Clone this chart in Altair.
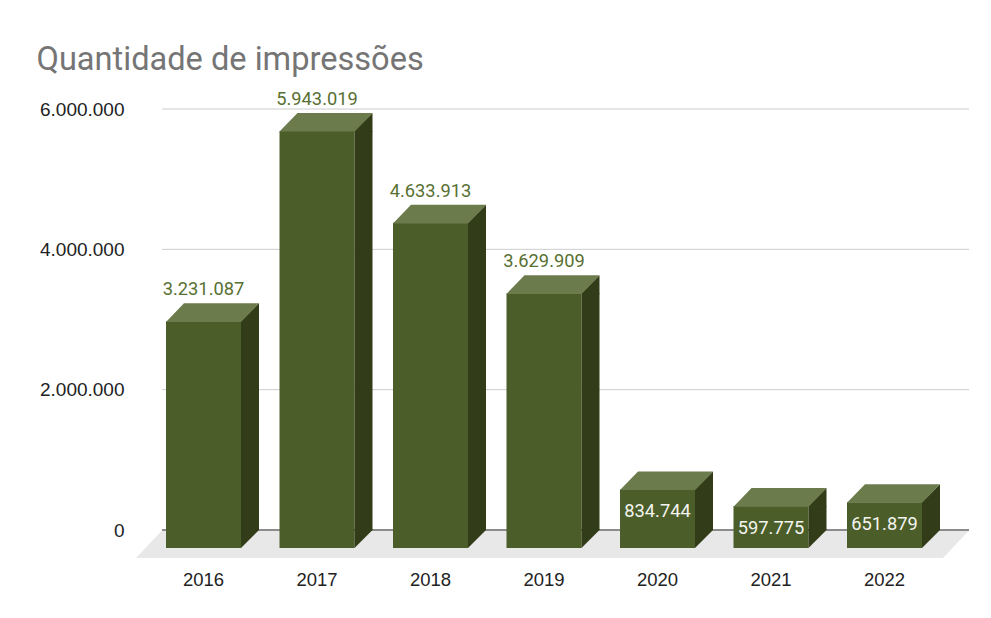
import altair as alt
import pandas as pd

# ---- data ----
years = ["2016", "2017", "2018", "2019", "2020", "2021", "2022"]
values = [3231087, 5943019, 4633913, 3629909, 834744, 597775, 651879]
y_ticks = [0, 2000000, 4000000, 6000000]
title_text = "Quantidade de impressões"

df = pd.DataFrame({"ano": years, "valor": values})
zero_df = pd.DataFrame({"v": [0]})
tick_df = pd.DataFrame({"t": y_ticks})

# ---- styling ----
W, H = 807, 421
FRONT = "#4b5e29"
TOP = "#6b7b4b"
SIDE = "#323c19"
FLOOR = "#e8e8e8"
LABEL_GREEN = "#587032"
FONT = "Roboto"
AXIS_FONT = "Liberation Sans"

TOP_PATH = "M -55.5 18.6 L 19.5 18.6 L 37.5 0 L -37.5 0 Z"
SIDE_TOP_PATH = "M 19.5 18.8 L 19.5 18 L 37.5 0 L 37.5 18.8 Z"
SIDE_BOT_PATH = "M 19.5 -0.8 L 37.5 -0.8 L 37.5 0 L 19.5 18 Z"
FLOOR_PATH = "M 0 0.5 L 807 0.5 L 781 28 L -26 28 Z"

xenc = alt.X(
    "ano:N",
    sort=years,
    scale=alt.Scale(range=[2.75, 797.25], paddingInner=0, paddingOuter=0),
    axis=alt.Axis(
        title=None, labelOffset=-18, labelPadding=49, labelBaseline="middle",
        domain=False, ticks=False, grid=False, labelAngle=0,
        labelFontSize=18.5, labelFont=AXIS_FONT, labelColor="#222222",
    ),
)
yenc = alt.Y(
    "valor:Q",
    scale=alt.Scale(domain=[0, 6000000], nice=False, zero=True),
    axis=alt.Axis(
        title=None, values=y_ticks, format=",d", domain=False, ticks=False,
        grid=False,
        labelPadding=38, labelFontSize=19, labelFont=AXIS_FONT, labelColor="#222222",
    ),
)

base = alt.Chart(df).encode(x=xenc)

axes = base.mark_bar(opacity=0).encode(y=yenc)

gridlines = alt.Chart(tick_df).mark_rule(color="#cccccc", strokeWidth=1).encode(
    y=alt.Y("t:Q"), x=alt.value(0), x2=alt.value(W)
)

floor = alt.Chart(zero_df).mark_point(
    shape=FLOOR_PATH, size=4, filled=True, opacity=1, color=FLOOR, strokeWidth=0
).encode(x=alt.value(0), y=alt.datum(0))

baseline = alt.Chart(zero_df).mark_rule(color="#333333", strokeWidth=1).encode(
    x=alt.value(0), x2=alt.value(W), y=alt.datum(0)
)

front = base.mark_bar(size=75, color=FRONT, xOffset=-18, yOffset=18, y2Offset=18).encode(
    y="valor:Q", y2=alt.datum(0)
)
side = base.mark_bar(size=18, color=SIDE, xOffset=28.5, yOffset=18).encode(
    y="valor:Q", y2=alt.datum(0)
)
side_top = base.mark_point(
    shape=SIDE_TOP_PATH, size=4, filled=True, opacity=1, color=SIDE, strokeWidth=0
).encode(y="valor:Q")
side_bot = base.mark_point(
    shape=SIDE_BOT_PATH, size=4, filled=True, opacity=1, color=SIDE, strokeWidth=0
).encode(y=alt.datum(0))
top = base.mark_point(
    shape=TOP_PATH, size=4, filled=True, opacity=1, color=TOP, strokeWidth=0
).encode(y="valor:Q")

txt = alt.Text("valor:Q", format=",d")
out_halo = base.mark_text(
    dx=-18, dy=-13, fontSize=18.3, font=FONT, baseline="middle",
    stroke="white", strokeWidth=4, color="white"
).encode(y="valor:Q", text=txt).transform_filter("datum.valor >= 1000000")
out_lbl = base.mark_text(
    dx=-18, dy=-13, fontSize=18.3, font=FONT, baseline="middle", color=LABEL_GREEN
).encode(y="valor:Q", text=txt).transform_filter("datum.valor >= 1000000")
in_lbl = base.mark_text(
    dx=-18, dy=41, fontSize=18.3, font=FONT, baseline="middle", color="#f4f4f0"
).encode(y="valor:Q", text=txt).transform_filter("datum.valor < 1000000")

chart = alt.layer(
    axes, gridlines, floor, baseline, front, side, side_top, side_bot, top,
    out_halo, out_lbl, in_lbl
).properties(
    width=W, height=H,
    title=alt.TitleParams(
        title_text, anchor="start", dx=-3, fontSize=32.6, font=FONT,
        color="#757575", fontWeight="normal", offset=13,
    ),
    autosize=alt.AutoSizeParams(type="none"),
    padding={"left": 154, "top": 101, "right": 14, "bottom": 70},
).configure(
    locale={"number": {"decimal": ",", "thousands": ".", "grouping": [3], "currency": ["R$", ""]}},
    view=alt.ViewConfig(stroke=None),
)

chart.save("out.html", embed_options={"renderer": "svg", "actions": False})
